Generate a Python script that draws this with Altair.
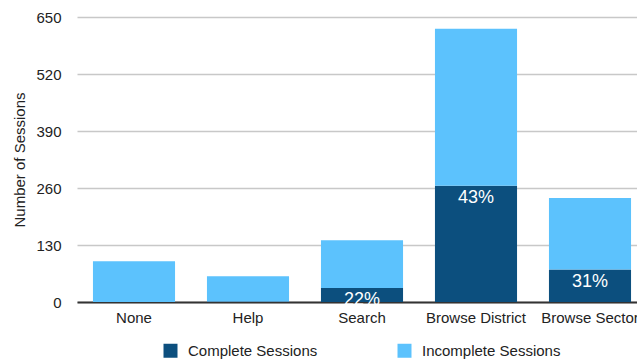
import altair as alt
import pandas as pd

categories = ["None", "Help", "Search", "Browse District", "Browse Sector"]
complete = [0, 1, 32, 265, 74]
incomplete = [93, 58, 109, 358, 163]
pct_labels = ["", "", "22%", "43%", "31%"]
series = ["Complete Sessions", "Incomplete Sessions"]
colors = ["#0c4f7e", "#5cc2fd"]
y_ticks = [0, 130, 260, 390, 520, 650]

rows = []
for c, a, b in zip(categories, complete, incomplete):
    rows.append({"cat": c, "series": series[0], "value": a, "ord": 0})
    rows.append({"cat": c, "series": series[1], "value": b, "ord": 1})
df = pd.DataFrame(rows)
lab = pd.DataFrame({"cat": categories, "complete": complete, "label": pct_labels})

FONT = "Liberation Sans"

x_enc = alt.X("cat:N", sort=categories, title=None,
              scale=alt.Scale(range=[0, 570], paddingInner=0.28, paddingOuter=0.14),
              axis=alt.Axis(labelAngle=0, labelFontSize=15, labelColor="#222",
                            labelFont=FONT, labelPadding=8, ticks=False,
                            domainColor="#333", domainWidth=2, grid=False))

bars = alt.Chart(df).mark_bar().encode(
    x=x_enc,
    y=alt.Y("value:Q", stack="zero", title="Number of Sessions",
            scale=alt.Scale(domain=[0, 650], nice=False),
            axis=alt.Axis(values=y_ticks, labelFontSize=15, labelColor="#222",
                          labelFont=FONT, labelPadding=16, ticks=False, domain=False,
                          gridColor="#c8c8c8", gridWidth=1.5,
                          titleFont=FONT, titleFontSize=15, titleFontWeight="normal",
                          titleColor="#222", titlePadding=8)),
    color=alt.Color("series:N", scale=alt.Scale(domain=series, range=colors),
                    legend=alt.Legend(title=None, orient="none", direction="horizontal",
                                      legendX=86, legendY=326, symbolType="square",
                                      symbolSize=196, symbolStrokeWidth=0,
                                      labelFontSize=15, labelFont=FONT, labelColor="#222",
                                      labelOffset=10, columnPadding=79)),
    order=alt.Order("ord:Q", sort="ascending"),
)

text = alt.Chart(lab).mark_text(color="white", fontSize=18, font=FONT,
                                baseline="top", dy=3).encode(
    x=alt.X("cat:N", sort=categories),
    y=alt.Y("complete:Q"),
    text="label:N",
)

chart = alt.layer(bars, text).properties(
    width=560, height=285,
    autosize=alt.AutoSizeParams(type="none"),
    padding={"left": 77, "top": 17, "right": 0, "bottom": 58},
).configure_view(stroke=None)

chart.save("out.html", embed_options={"renderer": "svg", "actions": False})
